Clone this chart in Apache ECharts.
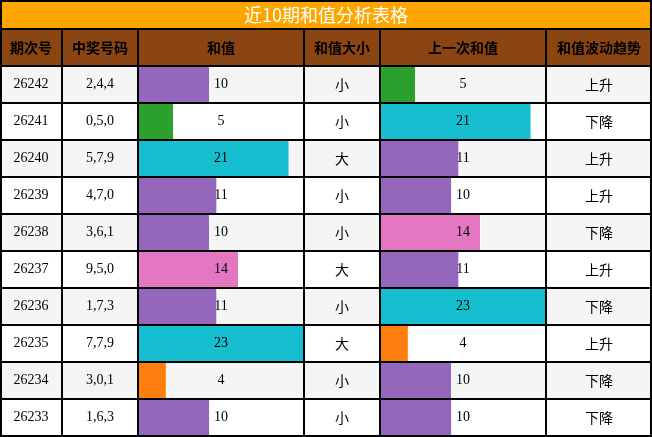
<!DOCTYPE html>
<html lang="en">
<head>
<meta charset="UTF-8">
<title>近10期和值分析表格</title>
<script src="https://cdn.jsdelivr.net/npm/echarts@6/dist/echarts.min.js"></script>
<style>html,body{margin:0;padding:0;background:#fff}</style>
</head>
<body>
<div id="main" style="width:652px;height:437px;"></div>
<script type="text/javascript">
// 数据
var issues = ['26242','26241','26240','26239','26238','26237','26236','26235','26234','26233'];
var numbers = ['2,4,4','0,5,0','5,7,9','4,7,0','3,6,1','9,5,0','1,7,3','7,7,9','3,0,1','1,6,3'];
var sums = [10, 5, 21, 11, 10, 14, 11, 23, 4, 10];
var sizes = ['小','小','大','小','小','大','小','大','小','小'];
var prevSums = [5, 21, 11, 10, 14, 11, 23, 4, 10, 10];
var trends = ['上升','下降','上升','上升','下降','上升','下降','上升','下降','下降'];
var headers = ['期次号','中奖号码','和值','和值大小','上一次和值','和值波动趋势'];

var colorOf = {4:'#ff7f0e', 5:'#2ca02c', 10:'#9467bd', 11:'#9467bd', 14:'#e377c2', 21:'#17becf', 23:'#17becf'};
var cols = [0, 62, 138, 304, 380, 546, 652];
var top0 = 66, rowH = 37;
var serif = '"Liberation Serif", serif';
var cjk = '"Noto Sans CJK SC", sans-serif';

var g = [];
// 标题和表头
g.push({type:'rect', shape:{x:0,y:0,width:652,height:29}, style:{fill:'#FFA500'}, z:0});
g.push({type:'text', x:326, y:15, style:{text:'近10期和值分析表格', fill:'#fff', font:'18px ' + cjk, align:'center', verticalAlign:'middle'}, z:10});
g.push({type:'rect', shape:{x:0,y:29,width:652,height:37}, style:{fill:'#8B4513'}, z:0});
headers.forEach(function (h, i) {
    g.push({type:'text', x:(cols[i]+cols[i+1])/2, y:48, style:{text:h, fill:'#000', font:'bold 14px ' + cjk, align:'center', verticalAlign:'middle'}, z:10});
});
// 行背景 + 文字
issues.forEach(function (d, r) {
    var y = top0 + r * rowH, cy = y + rowH / 2;
    g.push({type:'rect', shape:{x:0,y:y,width:652,height:rowH}, style:{fill: r % 2 ? '#ffffff' : '#f5f5f5'}, z:-5});
    var cells = [[0, issues[r], serif], [1, numbers[r], serif], [2, String(sums[r]), serif],
                 [3, sizes[r], cjk], [4, String(prevSums[r]), serif], [5, trends[r], cjk]];
    cells.forEach(function (c) {
        g.push({type:'text', x:(cols[c[0]]+cols[c[0]+1])/2, y:cy, style:{text:c[1], fill:'#000', font:'14px ' + c[2], align:'center', verticalAlign:'middle'}, z:20});
    });
});
// 网格线
cols.forEach(function (x) {
    var xx = Math.min(Math.max(x, 1), 651);
    g.push({type:'line', shape:{x1:xx,y1:29,x2:xx,y2:437}, style:{stroke:'#000', lineWidth:2}, z:30});
});
g.push({type:'line', shape:{x1:1,y1:0,x2:1,y2:29}, style:{stroke:'#000', lineWidth:2}, z:30});
g.push({type:'line', shape:{x1:651,y1:0,x2:651,y2:29}, style:{stroke:'#000', lineWidth:2}, z:30});
[1, 29].concat(issues.map(function (d, r) { return top0 + r * rowH; })).concat([436]).forEach(function (y) {
    g.push({type:'line', shape:{x1:0,y1:y,x2:652,y2:y}, style:{stroke:'#000', lineWidth:2}, z:30});
});

function barData(arr) {
    return arr.map(function (v) { return {value: v, itemStyle: {color: colorOf[v]}}; });
}
var hiddenAxis = {show: false};
var option = {
    animation: false,
    grid: [
        {left: 138, width: 166, top: top0, height: rowH * 10},
        {left: 380, width: 166, top: top0, height: rowH * 10}
    ],
    xAxis: [
        {gridIndex: 0, type: 'value', min: 0, max: 23, show: false},
        {gridIndex: 1, type: 'value', min: 0, max: 23, show: false}
    ],
    yAxis: [
        {gridIndex: 0, type: 'category', data: issues, inverse: true, show: false},
        {gridIndex: 1, type: 'category', data: issues, inverse: true, show: false}
    ],
    series: [
        {type: 'bar', xAxisIndex: 0, yAxisIndex: 0, barCategoryGap: 0, data: barData(sums),
         itemStyle: {borderColor: '#fff', borderWidth: 1}, z: 2},
        {type: 'bar', xAxisIndex: 1, yAxisIndex: 1, barCategoryGap: 0, data: barData(prevSums),
         itemStyle: {borderColor: '#fff', borderWidth: 1}, z: 2}
    ],
    graphic: g
};
var myChart = echarts.init(document.getElementById('main'));
myChart.setOption(option);
</script>
</body>
</html>
